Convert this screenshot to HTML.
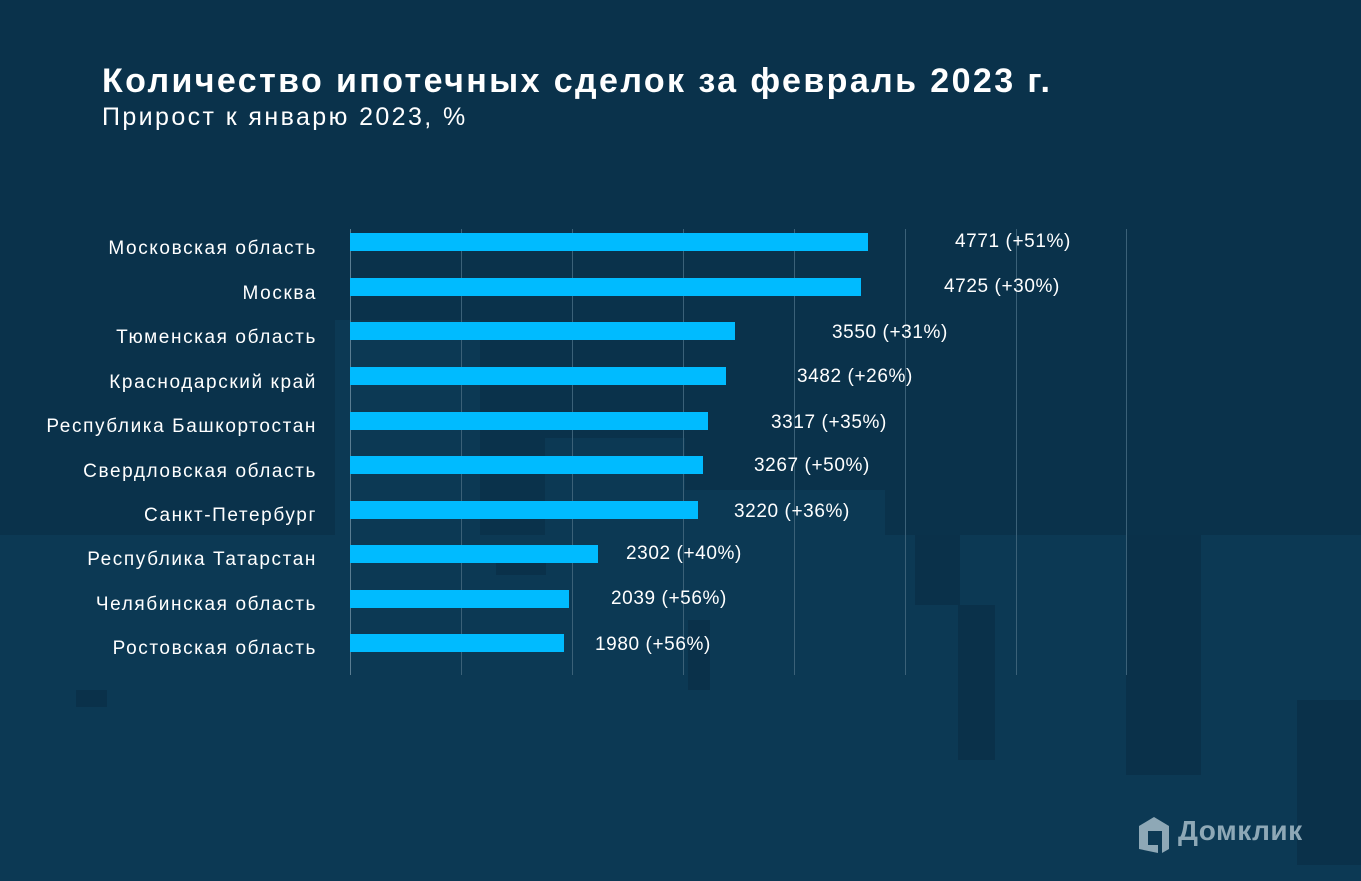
<!DOCTYPE html>
<html><head><meta charset="utf-8"><style>
body{margin:0;width:1361px;height:881px;overflow:hidden;background:#0a324b;font-family:"Liberation Sans",sans-serif;position:relative}
.r{position:absolute;background:#0c3954}
.d{position:absolute;background:#0a314a}
.t{position:absolute;color:#fff;white-space:nowrap}
.lab{position:absolute;right:1044px;color:#fff;font-size:19px;letter-spacing:1.6px;white-space:nowrap;transform:translateY(-50%)}
.val{position:absolute;color:#fff;font-size:19px;letter-spacing:0.6px;white-space:nowrap;transform:translateY(-50%)}
.bar{position:absolute;left:350px;height:18px;background:#00bbff;transform:translateY(-50%)}
.g{position:absolute;top:229px;height:446px;width:1px;background:#3b6178}
</style></head><body>
<div class="r" style="left:0;top:535px;width:1361px;height:346px"></div>
<div class="r" style="left:335px;top:320px;width:145px;height:561px"></div>
<div class="r" style="left:545px;top:438px;width:140px;height:443px"></div>
<div class="r" style="left:685px;top:490px;width:200px;height:391px"></div>
<div class="r" style="left:885px;top:540px;width:30px;height:341px"></div>
<div class="d" style="left:76px;top:690px;width:31px;height:17px"></div>
<div class="d" style="left:496px;top:555px;width:50px;height:20px"></div>
<div class="d" style="left:688px;top:620px;width:22px;height:70px"></div>
<div class="d" style="left:915px;top:535px;width:45px;height:70px"></div>
<div class="d" style="left:958px;top:605px;width:37px;height:155px"></div>
<div class="d" style="left:1126px;top:535px;width:75px;height:240px"></div>
<div class="d" style="left:1297px;top:700px;width:64px;height:165px"></div>
<div class="t" style="left:102px;top:62px;font-size:34px;font-weight:bold;letter-spacing:2.4px">Количество ипотечных сделок за февраль 2023 г.</div>
<div class="t" style="left:102px;top:103px;font-size:25px;letter-spacing:2.4px">Прирост к январю 2023, %</div>
<div class="g" style="left:350px;background:#5a7d92"></div><div class="g" style="left:461px"></div><div class="g" style="left:572px"></div><div class="g" style="left:683px"></div><div class="g" style="left:794px"></div><div class="g" style="left:905px"></div><div class="g" style="left:1016px"></div><div class="g" style="left:1126px"></div>
<div class="lab" style="top:249px">Московская область</div><div class="bar" style="top:242px;width:518px"></div><div class="val" style="top:242px;left:955px">4771 (+51%)</div>
<div class="lab" style="top:294px">Москва</div><div class="bar" style="top:287px;width:511px"></div><div class="val" style="top:287px;left:944px">4725 (+30%)</div>
<div class="lab" style="top:338px">Тюменская область</div><div class="bar" style="top:331px;width:385px"></div><div class="val" style="top:333px;left:832px">3550 (+31%)</div>
<div class="lab" style="top:383px">Краснодарский край</div><div class="bar" style="top:376px;width:376px"></div><div class="val" style="top:377px;left:797px">3482 (+26%)</div>
<div class="lab" style="top:427px">Республика Башкортостан</div><div class="bar" style="top:421px;width:358px"></div><div class="val" style="top:423px;left:771px">3317 (+35%)</div>
<div class="lab" style="top:472px">Свердловская область</div><div class="bar" style="top:465px;width:353px"></div><div class="val" style="top:466px;left:754px">3267 (+50%)</div>
<div class="lab" style="top:516px">Санкт-Петербург</div><div class="bar" style="top:510px;width:348px"></div><div class="val" style="top:512px;left:734px">3220 (+36%)</div>
<div class="lab" style="top:560px">Республика Татарстан</div><div class="bar" style="top:554px;width:248px"></div><div class="val" style="top:554px;left:626px">2302 (+40%)</div>
<div class="lab" style="top:605px">Челябинская область</div><div class="bar" style="top:599px;width:219px"></div><div class="val" style="top:599px;left:611px">2039 (+56%)</div>
<div class="lab" style="top:649px">Ростовская область</div><div class="bar" style="top:643px;width:214px"></div><div class="val" style="top:645px;left:595px">1980 (+56%)</div>
<svg style="position:absolute;left:1136px;top:815px" width="36" height="40" viewBox="0 0 36 40"><path d="M18 2 L33 11 L33 34 L26 38 L26 16 L12 16 L12 30 L22 30 L22 38 L3 34 L3 11 Z" fill="#8ea8b6"/></svg>
<div class="t" style="left:1178px;top:815px;font-size:28px;font-weight:bold;color:#8ea8b6;letter-spacing:0.5px">Домклик</div>
</body></html>
